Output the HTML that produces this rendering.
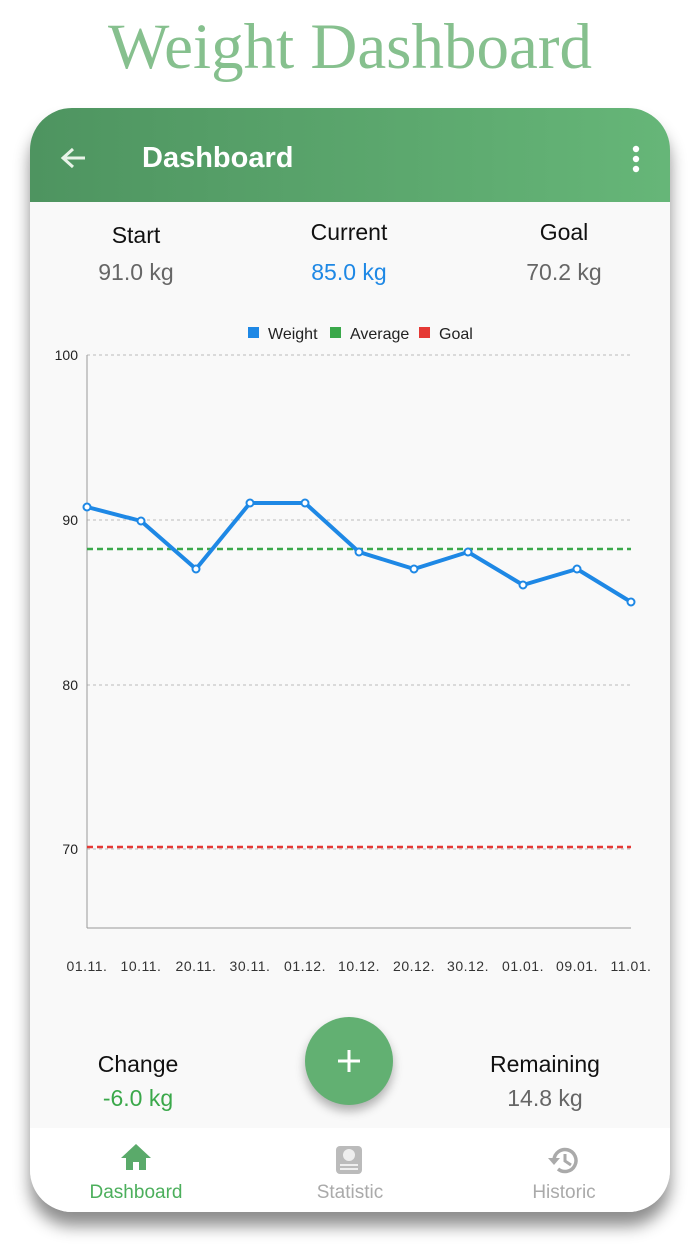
<!DOCTYPE html>
<html><head><style>
body{margin:0;width:700px;height:1244px;background:#fff;position:relative;font-family:"Liberation Sans",sans-serif;overflow:hidden}
.title{position:absolute;top:10px;left:0;width:700px;text-align:center;font-family:"Liberation Serif",serif;font-size:65px;color:#86c08e}
.card{position:absolute;left:30px;top:108px;width:640px;height:1104px;border-radius:42px;background:#f9f9f9;overflow:hidden;box-shadow:0 14px 16px rgba(0,0,0,.45)}
.hdr{position:absolute;left:0;top:0;width:640px;height:94px;background:linear-gradient(90deg,#4e9460,#66b678)}
.hdr .t{position:absolute;left:112px;top:34px;color:#fff;font-size:29px;font-weight:bold}
.lbl{position:absolute;width:200px;text-align:center;font-size:23px;color:#111}
.val{position:absolute;width:200px;text-align:center;font-size:23px;color:#666}
.nav{position:absolute;left:0;top:1020px;width:640px;height:84px;background:#fff}
.nav div{position:absolute;width:200px;text-align:center;font-size:19px;top:54px}
</style></head><body>
<div class="title">Weight Dashboard</div>
<div class="card">
<div class="hdr"><svg style="position:absolute;left:28px;top:38px" width="30" height="24"><path d="M15 3 L5 12 L15 21 M5 12 H27" stroke="#e8f3e8" stroke-width="3" fill="none"/></svg>
<div class="t">Dashboard</div>
<svg style="position:absolute;left:600px;top:37px" width="12" height="30"><circle cx="6" cy="4" r="3.2" fill="#fff"/><circle cx="6" cy="14" r="3.2" fill="#fff"/><circle cx="6" cy="24" r="3.2" fill="#fff"/></svg></div>
<div class="lbl" style="left:6px;top:114px">Start</div><div class="val" style="left:6px;top:151px">91.0 kg</div>
<div class="lbl" style="left:219px;top:111px">Current</div><div class="val" style="left:219px;top:151px;color:#1e88e5">85.0 kg</div>
<div class="lbl" style="left:434px;top:111px">Goal</div><div class="val" style="left:434px;top:151px">70.2 kg</div>
<div class="lbl" style="left:8px;top:943px">Change</div><div class="val" style="left:8px;top:977px;color:#3aa84a">-6.0 kg</div>
<div class="lbl" style="left:415px;top:943px">Remaining</div><div class="val" style="left:415px;top:977px">14.8 kg</div>
<div class="nav">
<svg style="position:absolute;left:90px;top:14px" width="32" height="30"><path d="M16 2 L31 16 H26 V28 H19 V20 H13 V28 H6 V16 H1 Z" fill="#5aaa6a"/></svg>
<svg style="position:absolute;left:306px;top:18px" width="26" height="28"><rect x="0" y="0" width="26" height="28" rx="4" fill="#bbb"/><circle cx="13" cy="9" r="6" fill="#eee"/><rect x="4" y="18" width="18" height="2" fill="#eee"/><rect x="4" y="22" width="18" height="2" fill="#eee"/></svg>
<svg style="position:absolute;left:516px;top:16px" width="34" height="32"><path d="M8 16 A11 11 0 1 1 12 25" stroke="#aaa" stroke-width="3.5" fill="none"/><path d="M2 14 L8 21 L14 14 Z" fill="#aaa"/><path d="M19 10 V17 L25 21" stroke="#aaa" stroke-width="3" fill="none"/></svg>
<div style="left:6px;color:#4caf5c">Dashboard</div><div style="left:220px;color:#aaa">Statistic</div><div style="left:434px;color:#aaa">Historic</div></div>
</div>
<div style="position:absolute;left:305px;top:1017px;width:88px;height:88px;border-radius:50%;background:#62b072;box-shadow:0 6px 10px rgba(0,0,0,.3)"><svg width="88" height="88"><path d="M44 33 V55 M33 44 H55" stroke="#fff" stroke-width="3"/></svg></div>
<svg style="position:absolute;left:0;top:0" width="700" height="1000" font-family="Liberation Sans, sans-serif">
<rect x="248" y="327" width="11" height="11" fill="#1e88e5"/><text x="268" y="339" font-size="16" fill="#222">Weight</text>
<rect x="330" y="327" width="11" height="11" fill="#3aa84a"/><text x="350" y="339" font-size="16" fill="#222">Average</text>
<rect x="419" y="327" width="11" height="11" fill="#e53935"/><text x="439" y="339" font-size="16" fill="#222">Goal</text>
<g stroke="#bbb" stroke-dasharray="3,3" stroke-width="1"><line x1="87" x2="631" y1="355" y2="355"/><line x1="87" x2="631" y1="520" y2="520"/><line x1="87" x2="631" y1="685" y2="685"/><line x1="87" x2="631" y1="849" y2="849"/></g>
<line x1="87" y1="355" x2="87" y2="928" stroke="#999"/><line x1="87" y1="928" x2="631" y2="928" stroke="#999"/>
<g font-size="14" fill="#222" text-anchor="end"><text x="78" y="360">100</text><text x="78" y="525">90</text><text x="78" y="690">80</text><text x="78" y="854">70</text></g>
<line x1="87" x2="631" y1="549" y2="549" stroke="#3aa84a" stroke-width="2.5" stroke-dasharray="6,4"/>
<line x1="87" x2="631" y1="847" y2="847" stroke="#e53935" stroke-width="2.5" stroke-dasharray="6,4"/>
<polyline fill="none" stroke="#1e88e5" stroke-width="4" stroke-linejoin="round" points="87,507 141,521 196,569 250,503 305,503 359,552 414,569 468,552 523,585 577,569 631,602"/>
<g fill="#fff" stroke="#1e88e5" stroke-width="2"><circle cx="87" cy="507" r="3.5"/><circle cx="141" cy="521" r="3.5"/><circle cx="196" cy="569" r="3.5"/><circle cx="250" cy="503" r="3.5"/><circle cx="305" cy="503" r="3.5"/><circle cx="359" cy="552" r="3.5"/><circle cx="414" cy="569" r="3.5"/><circle cx="468" cy="552" r="3.5"/><circle cx="523" cy="585" r="3.5"/><circle cx="577" cy="569" r="3.5"/><circle cx="631" cy="602" r="3.5"/></g>
<g font-size="14" fill="#333" text-anchor="middle" letter-spacing="0.5"><text x="87" y="971">01.11.</text><text x="141" y="971">10.11.</text><text x="196" y="971">20.11.</text><text x="250" y="971">30.11.</text><text x="305" y="971">01.12.</text><text x="359" y="971">10.12.</text><text x="414" y="971">20.12.</text><text x="468" y="971">30.12.</text><text x="523" y="971">01.01.</text><text x="577" y="971">09.01.</text><text x="631" y="971">11.01.</text></g>
</svg>
</body></html>
